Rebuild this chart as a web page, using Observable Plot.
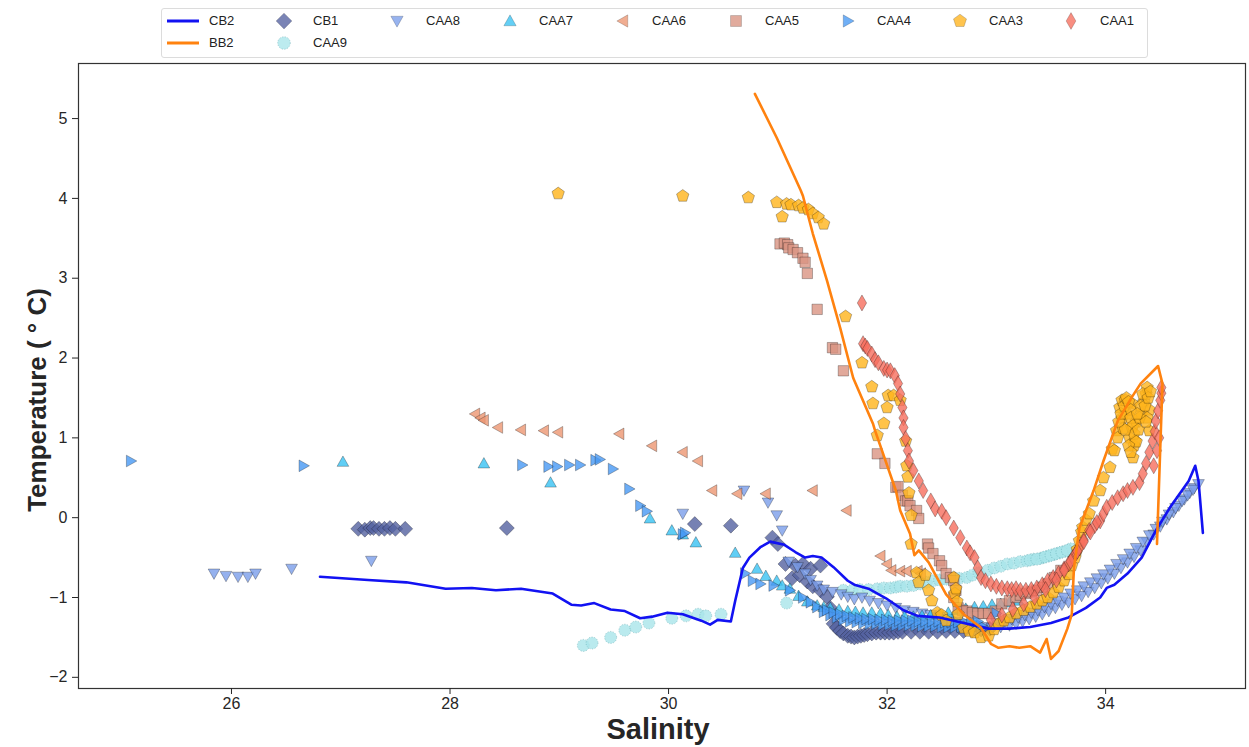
<!DOCTYPE html>
<html>
<head>
<meta charset="utf-8">
<script src="https://cdn.jsdelivr.net/npm/d3@7"></script>
<script src="https://cdn.jsdelivr.net/npm/@observablehq/plot@0.6"></script>
<style>
  body { margin: 0; background: #fff; font-family: "Liberation Sans", Arial, sans-serif; }
  #legend { position: relative; width: 1249px; height: 60px; }
  #legend .box { position: absolute; left: 161px; top: 8px; width: 985px; height: 48px; border: 1px solid #dcdcdc; border-radius: 3px; }
  #legend .lab { position: absolute; font-size: 13px; color: #222; line-height: 14px; }
  #legend svg { position: absolute; overflow: visible; }
</style>
</head>
<body>
<div id="legend"><div class="box"></div></div>
<div id="chart"></div>
<script>
// ---------------- data (Salinity, Temperature) ----------------
const xTicks = [26, 28, 30, 32, 34];
const yTicks = [-2, -1, 0, 1, 2, 3, 4, 5];

const cb2 = [[26.81,-0.74],[27.25,-0.78],[27.60,-0.81],[27.96,-0.89],[28.20,-0.88],[28.42,-0.91],[28.65,-0.89],[28.94,-0.95],[29.11,-1.09],[29.20,-1.10],[29.32,-1.07],[29.47,-1.15],[29.60,-1.17],[29.74,-1.26],[29.85,-1.24],[29.99,-1.19],[30.13,-1.21],[30.30,-1.29],[30.38,-1.34],[30.45,-1.28],[30.57,-1.30],[30.61,-1.04],[30.68,-0.63],[30.74,-0.50],[30.84,-0.37],[30.93,-0.30],[31.06,-0.34],[31.16,-0.43],[31.25,-0.50],[31.32,-0.48],[31.40,-0.50],[31.51,-0.62],[31.64,-0.79],[31.70,-0.84],[31.83,-0.89],[31.99,-1.01],[32.15,-1.16],[32.28,-1.23],[32.48,-1.25],[32.73,-1.33],[32.93,-1.39],[33.12,-1.39],[33.31,-1.37],[33.50,-1.32],[33.66,-1.25],[33.82,-1.13],[33.95,-1.00],[34.01,-0.88],[34.08,-0.84],[34.20,-0.70],[34.33,-0.50],[34.46,-0.16],[34.59,0.13],[34.76,0.46],[34.82,0.65],[34.85,0.46],[34.89,-0.19]];

const bb2 = [[30.79,5.31],[30.99,4.76],[31.21,4.10],[31.23,4.03],[31.32,3.56],[31.45,2.97],[31.57,2.38],[31.69,1.75],[31.87,1.18],[31.89,1.09],[32.08,0.34],[32.12,0.09],[32.21,-0.20],[32.25,-0.47],[32.29,-0.41],[32.38,-0.56],[32.54,-0.96],[32.70,-1.21],[32.86,-1.38],[32.95,-1.58],[33.02,-1.63],[33.12,-1.61],[33.21,-1.63],[33.31,-1.61],[33.40,-1.69],[33.46,-1.52],[33.50,-1.77],[33.57,-1.67],[33.65,-1.39],[33.69,-1.21],[33.71,-0.63],[33.76,-0.13],[33.89,0.34],[33.98,0.71],[34.11,1.21],[34.24,1.51],[34.32,1.68],[34.48,1.90],[34.52,1.68],[34.47,-0.33]];

const cb1 = [[27.16,-0.14],[27.22,-0.15],[27.27,-0.13],[27.30,-0.13],[27.35,-0.14],[27.40,-0.14],[27.45,-0.13],[27.50,-0.14],[27.59,-0.14],[28.52,-0.13],[30.24,-0.08],[30.57,-0.10],[30.95,-0.25],[31.00,-0.33],[31.07,-0.58],[31.16,-0.60],[31.23,-0.58],[31.30,-0.64],[31.39,-0.60],[31.13,-0.76],[31.20,-0.72],[31.27,-0.80],[31.32,-0.86],[31.39,-0.91],[31.45,-0.99],[31.48,-1.13],[31.51,-1.33],[31.54,-1.38],[31.57,-1.42],[31.60,-1.45],[31.64,-1.48],[31.67,-1.49],[31.70,-1.50],[31.73,-1.49],[31.76,-1.48],[31.79,-1.47],[31.82,-1.46],[31.86,-1.45],[31.90,-1.44],[31.94,-1.44],[31.98,-1.44],[32.02,-1.44],[32.06,-1.44],[32.10,-1.43],[32.14,-1.43],[32.22,-1.43],[32.30,-1.43],[32.38,-1.43],[32.46,-1.43],[32.54,-1.42],[32.62,-1.42],[32.70,-1.42],[32.78,-1.41],[32.86,-1.40],[32.94,-1.39]];

const caa9 = [[29.22,-1.60],[29.30,-1.57],[29.47,-1.50],[29.60,-1.41],[29.70,-1.37],[29.82,-1.32],[30.03,-1.26],[30.16,-1.23],[30.27,-1.21],[30.34,-1.23],[30.48,-1.21],[31.08,-1.07],[31.60,-0.91],[31.68,-0.91],[31.75,-0.90],[31.83,-0.90],[31.91,-0.89],[31.97,-0.88],[32.03,-0.88],[32.08,-0.87],[32.12,-0.86],[32.18,-0.86],[32.24,-0.85],[32.30,-0.83],[32.36,-0.81],[32.42,-0.79],[32.48,-0.78],[32.54,-0.77],[32.60,-0.76],[32.66,-0.76],[32.73,-0.75],[32.78,-0.72],[32.84,-0.69],[32.92,-0.66],[32.98,-0.63],[33.04,-0.61],[33.10,-0.58],[33.16,-0.57],[33.22,-0.55],[33.28,-0.54],[33.34,-0.52],[33.40,-0.51],[33.43,-0.50],[33.48,-0.48],[33.53,-0.46],[33.58,-0.44],[33.63,-0.42],[33.68,-0.39],[33.31,-0.53],[33.37,-0.52],[33.45,-0.49],[33.50,-0.47],[33.55,-0.45],[33.60,-0.43],[33.65,-0.41]];

const caa8 = [[25.84,-0.70],[25.95,-0.73],[26.06,-0.74],[26.15,-0.74],[26.22,-0.70],[26.55,-0.64],[27.28,-0.54],[30.13,0.05],[30.69,0.34],[30.91,0.19],[30.99,0.03],[31.04,-0.16],[31.10,-0.55],[31.18,-0.62],[31.25,-0.70],[31.30,-0.78],[31.36,-0.85],[31.42,-0.90],[31.50,-0.93],[31.58,-0.96],[31.64,-0.99],[31.70,-1.02],[31.77,-1.00],[31.84,-1.04],[31.92,-1.07],[32.00,-1.10],[32.08,-1.13],[32.16,-1.16],[32.24,-1.18],[32.32,-1.20],[32.40,-1.22],[32.48,-1.24],[32.56,-1.27],[32.64,-1.30],[32.72,-1.33],[32.80,-1.36],[32.88,-1.37],[32.96,-1.38],[33.04,-1.37],[33.12,-1.35],[33.18,-1.33],[33.24,-1.30],[33.30,-1.27],[33.36,-1.24],[33.42,-1.21],[33.48,-1.17],[33.54,-1.13],[33.60,-1.09],[33.66,-1.06],[33.72,-1.02],[33.78,-0.98],[33.84,-0.93],[33.90,-0.88],[33.96,-0.82],[34.02,-0.76],[34.08,-0.70],[34.14,-0.63],[34.20,-0.56],[34.26,-0.49],[34.32,-0.41],[34.38,-0.31],[34.44,-0.21],[34.50,-0.11],[34.56,-0.02],[34.62,0.07],[34.67,0.15],[34.72,0.23],[34.77,0.31],[34.81,0.37],[34.85,0.42],[33.00,-1.32],[33.08,-1.30],[33.14,-1.27],[33.20,-1.25],[33.26,-1.22],[33.32,-1.19],[33.38,-1.16],[33.44,-1.12],[33.50,-1.08],[33.56,-1.04],[33.62,-1.00],[33.68,-0.95],[33.74,-0.91],[33.80,-0.86],[33.86,-0.81],[33.92,-0.76],[33.98,-0.71],[34.04,-0.65],[34.10,-0.58],[34.16,-0.52],[34.22,-0.45],[34.28,-0.38],[34.34,-0.30],[34.40,-0.22],[34.46,-0.14],[34.52,-0.05],[34.58,0.04],[34.64,0.12],[34.70,0.21],[34.75,0.28],[34.80,0.35]];

const caa7 = [[27.02,0.70],[28.31,0.68],[28.92,0.44],[29.83,-0.01],[30.03,-0.16],[30.13,-0.21],[30.25,-0.31],[30.61,-0.44],[30.81,-0.64],[30.89,-0.73],[30.99,-0.79],[31.04,-0.85],[31.11,-0.89],[31.19,-0.98],[31.27,-1.05],[31.36,-1.10],[31.42,-1.12],[31.48,-1.13],[31.56,-1.15],[31.64,-1.17],[31.71,-1.18],[31.78,-1.19],[31.86,-1.19],[31.94,-1.20],[32.01,-1.22],[32.09,-1.24],[32.16,-1.24],[32.24,-1.24],[32.32,-1.23],[32.40,-1.22],[32.48,-1.21],[32.56,-1.19],[32.64,-1.16],[32.72,-1.14],[32.80,-1.12],[32.88,-1.11],[32.96,-1.09],[33.04,-1.08],[33.12,-1.06],[33.20,-1.04]];

const caa6 = [[28.23,1.30],[28.28,1.25],[28.31,1.22],[28.44,1.13],[28.65,1.10],[28.86,1.09],[28.99,1.07],[29.55,1.05],[29.85,0.90],[30.13,0.82],[30.27,0.71],[30.40,0.34],[30.63,0.30],[30.89,0.30],[31.32,0.34],[31.63,0.09],[31.94,-0.48],[32.00,-0.58],[32.04,-0.66],[32.12,-0.67],[32.18,-0.67],[32.28,-0.67],[32.31,-0.70]];

const caa5 = [[31.02,3.43],[31.06,3.44],[31.09,3.42],[31.10,3.38],[31.14,3.36],[31.18,3.32],[31.23,3.25],[31.25,3.20],[31.27,3.06],[31.36,2.61],[31.50,2.13],[31.53,2.11],[31.60,1.84],[31.91,0.80],[31.98,0.68],[32.08,0.38],[32.10,0.39],[32.14,0.28],[32.17,0.21],[32.19,0.21],[32.21,0.15],[32.27,0.09],[32.29,-0.01],[32.37,-0.33],[32.38,-0.38],[32.42,-0.45],[32.48,-0.54],[32.50,-0.60],[32.54,-0.70],[32.58,-0.75],[32.61,-0.79],[32.63,-0.91],[32.61,-1.00],[32.65,-1.13],[32.69,-1.16],[32.73,-1.17],[32.78,-1.19],[32.83,-1.20],[32.88,-1.20],[32.93,-1.20],[32.99,-1.17],[33.05,-1.08],[33.12,-1.04],[33.18,-1.00],[33.22,-0.97],[33.27,-0.95],[33.32,-0.93],[33.37,-0.91],[33.42,-0.87],[33.47,-0.83],[33.53,-0.75],[33.59,-0.66]];

const caa4 = [[25.08,0.71],[26.66,0.65],[28.66,0.66],[28.90,0.64],[28.98,0.64],[29.09,0.66],[29.19,0.66],[29.33,0.72],[29.37,0.73],[29.49,0.61],[29.64,0.36],[29.74,0.15],[29.80,0.08],[30.13,-0.21],[30.15,-0.19],[30.70,-0.70],[30.77,-0.79],[30.84,-0.83],[30.96,-0.85],[31.11,-0.91],[31.23,-1.00],[31.30,-1.06],[31.36,-1.12],[31.42,-1.18],[31.48,-1.22],[31.54,-1.25],[31.60,-1.28],[31.66,-1.30],[31.72,-1.31],[31.78,-1.32],[31.84,-1.33],[31.90,-1.33],[31.96,-1.34],[32.02,-1.34],[32.08,-1.35],[32.14,-1.35],[32.20,-1.35],[32.26,-1.35],[32.32,-1.36],[32.38,-1.36],[32.44,-1.36],[32.50,-1.37],[32.56,-1.37],[32.62,-1.37],[32.68,-1.37],[32.74,-1.37],[32.80,-1.36],[32.86,-1.35],[33.00,-1.20],[31.45,-1.16],[31.51,-1.19],[31.57,-1.21],[31.63,-1.23],[31.69,-1.25],[31.75,-1.26],[31.81,-1.27],[31.87,-1.27],[31.93,-1.28],[31.99,-1.28],[32.05,-1.29],[32.11,-1.29],[32.17,-1.29],[32.23,-1.29],[32.29,-1.30],[32.35,-1.30],[32.41,-1.30],[32.47,-1.30],[32.53,-1.31],[32.59,-1.31],[32.65,-1.31],[32.71,-1.31],[32.77,-1.30],[32.83,-1.30]];

const caa3 = [[28.99,4.06],[30.13,4.03],[30.73,4.01],[30.99,3.95],[31.04,3.77],[31.08,3.93],[31.12,3.92],[31.19,3.91],[31.23,3.88],[31.28,3.86],[31.32,3.81],[31.37,3.76],[31.42,3.68],[31.62,2.52],[31.77,1.94],[31.86,1.64],[31.87,1.43],[31.91,1.03],[31.97,1.18],[32.00,1.38],[32.01,1.53],[32.06,1.53],[32.12,1.47],[32.17,0.96],[32.18,0.65],[32.19,0.51],[32.20,0.31],[32.22,0.03],[32.22,-0.33],[32.27,-0.69],[32.29,-0.81],[32.35,-0.72],[32.38,-0.91],[32.41,-1.04],[32.46,-1.19],[32.50,-1.22],[32.54,-1.29],[32.61,-0.75],[32.62,-0.95],[32.63,-0.89],[32.64,-1.05],[32.65,-1.21],[32.70,-1.38],[32.75,-1.42],[32.80,-1.44],[32.86,-1.50],[32.93,-1.48],[32.98,-1.40],[33.02,-1.33],[33.07,-1.29],[33.12,-1.25],[33.18,-1.20],[33.25,-1.16],[33.31,-1.12],[33.37,-1.08],[33.42,-1.04],[33.47,-1.00],[33.52,-0.94],[33.57,-0.87],[33.62,-0.79],[33.66,-0.71],[33.69,-0.60],[33.72,-0.50],[33.74,-0.40],[33.76,-0.29],[33.78,-0.18],[33.79,-0.12],[33.82,-0.03],[33.85,0.05],[33.89,0.21],[33.95,0.34],[33.98,0.50],[34.04,0.63],[34.06,0.86],[34.08,0.84],[34.10,1.09],[34.11,1.00],[34.13,1.38],[34.15,1.25],[34.15,1.47],[34.16,1.12],[34.18,1.47],[34.20,1.30],[34.22,1.00],[34.24,1.43],[34.24,1.13],[34.25,0.75],[34.26,0.90],[34.27,0.96],[34.28,1.20],[34.33,1.30],[34.35,1.45],[34.37,1.55],[34.38,1.63],[34.40,1.09],[34.40,1.35],[34.38,1.25],[34.12,1.20],[34.14,1.30],[34.17,1.40],[34.19,1.50],[34.21,1.45],[34.23,1.35],[34.23,1.25],[34.25,1.15],[34.26,1.05],[34.28,0.95],[34.30,1.10],[34.31,1.25],[34.32,1.40],[34.34,1.55],[34.36,1.40],[34.37,1.20],[34.39,1.50],[34.41,1.58],[34.29,1.30],[34.18,1.10],[34.21,0.90],[34.23,0.82]];

const caa1 = [[31.77,2.69],[31.78,2.18],[31.80,2.15],[31.82,2.12],[31.86,2.05],[31.89,1.98],[31.92,1.94],[31.97,1.87],[32.00,1.85],[32.03,1.84],[32.07,1.78],[32.10,1.68],[32.12,1.55],[32.14,1.38],[32.15,1.25],[32.15,1.13],[32.17,0.99],[32.19,0.84],[32.20,0.71],[32.24,0.59],[32.29,0.46],[32.33,0.34],[32.40,0.21],[32.44,0.11],[32.50,0.08],[32.54,0.00],[32.61,-0.13],[32.67,-0.25],[32.73,-0.38],[32.76,-0.44],[32.80,-0.50],[32.83,-0.63],[32.86,-0.75],[32.90,-0.79],[32.95,-0.83],[33.00,-0.86],[33.05,-0.88],[33.10,-0.89],[33.14,-0.90],[33.18,-0.89],[33.22,-0.91],[33.27,-0.91],[33.32,-0.90],[33.37,-0.88],[33.42,-0.84],[33.47,-0.79],[33.52,-0.75],[33.57,-0.70],[33.62,-0.64],[33.66,-0.58],[33.70,-0.50],[33.73,-0.44],[33.76,-0.38],[33.80,-0.28],[33.85,-0.16],[33.90,-0.10],[33.95,-0.04],[33.98,0.05],[34.01,0.13],[34.06,0.19],[34.11,0.25],[34.16,0.30],[34.20,0.34],[34.25,0.38],[34.31,0.44],[34.34,0.55],[34.37,0.68],[34.40,0.82],[34.43,0.96],[34.44,0.65],[34.45,1.08],[34.46,1.21],[34.48,1.34],[34.50,1.47],[34.51,1.56],[34.51,1.63],[34.49,1.00],[34.47,0.84],[32.95,-1.28],[33.05,-1.22],[33.15,-1.15],[33.25,-1.08],[33.35,-1.00],[33.45,-0.90],[33.55,-0.78],[33.62,-0.66],[33.68,-0.55],[33.74,-0.42],[33.80,-0.30],[33.86,-0.18],[33.92,-0.06]];

// ---------------- symbols ----------------
const poly = (pts) => ({
  draw(ctx, size) {
    const r = Math.sqrt(size / Math.PI);
    pts.forEach(([a, b], i) => i ? ctx.lineTo(a * r, b * r) : ctx.moveTo(a * r, b * r));
    ctx.closePath();
  }
});
const pent = d3.range(5).map(i => { const a = -Math.PI / 2 + i * 2 * Math.PI / 5; return [Math.cos(a), Math.sin(a)]; });
const SYM = {
  diamond: poly([[0,-1],[1,0],[0,1],[-1,0]]),
  thinDiamond: poly([[0,-1],[0.58,0],[0,1],[-0.58,0]]),
  triDown: poly([[-0.9,-0.7],[0.9,-0.7],[0,0.9]]),
  triUp: poly([[-0.9,0.7],[0.9,0.7],[0,-0.9]]),
  triLeft: poly([[0.7,-0.9],[0.7,0.9],[-0.9,0]]),
  triRight: poly([[-0.7,-0.9],[-0.7,0.9],[0.9,0]]),
  square: poly([[-0.8,-0.8],[0.8,-0.8],[0.8,0.8],[-0.8,0.8]]),
  pentagon: poly(pent),
  circle: { draw(ctx, size) { const r = Math.sqrt(size / Math.PI); ctx.moveTo(r, 0); ctx.arc(0, 0, r, 0, 2 * Math.PI); } }
};

const series = [
  {name: "CB1",  data: cb1,  sym: "diamond",     r: 7.5, fill: "#5462a0"},
  {name: "CAA9", data: caa9, sym: "circle",      r: 6,   fill: "#a9e5ea", dash: "1.2,1.5", stroke: "#3e8f98"},
  {name: "CAA8", data: caa8, sym: "triDown",     r: 6.5, fill: "#7a9eea"},
  {name: "CAA7", data: caa7, sym: "triUp",       r: 6.5, fill: "#38c2f2"},
  {name: "CAA6", data: caa6, sym: "triLeft",     r: 6.5, fill: "#ec9672"},
  {name: "CAA5", data: caa5, sym: "square",      r: 6.5, fill: "#d99482"},
  {name: "CAA4", data: caa4, sym: "triRight",    r: 6.5, fill: "#4798f4"},
  {name: "CAA3", data: caa3, sym: "pentagon",    r: 6.5, fill: "#ffb41c"},
  {name: "CAA1", data: caa1, sym: "thinDiamond", r: 8,   fill: "#f66e5e"}
];

const dotMarks = series.map(s => Plot.dot(s.data, {
  x: d => d[0], y: d => d[1], symbol: SYM[s.sym], r: s.r,
  fill: s.fill, fillOpacity: 0.8,
  stroke: s.stroke || "#000", strokeOpacity: s.stroke ? 0.6 : 0.45, strokeWidth: 0.6,
  strokeDasharray: s.dash || null
}));

const chart = Plot.plot({
  width: 1249, height: 687,
  marginLeft: 78, marginRight: 4, marginTop: 3, marginBottom: 59,
  style: {fontFamily: "'Liberation Sans', Arial, sans-serif", fontSize: "16px", color: "#262626", background: "#fff"},
  x: {domain: [24.6, 35.28]},
  y: {domain: [-2.14, 5.69]},
  marks: [
    ...dotMarks,
    Plot.line(cb2, {x: d => d[0], y: d => d[1], stroke: "#1212f2", strokeWidth: 2.6, curve: "linear"}),
    Plot.line(bb2, {x: d => d[0], y: d => d[1], stroke: "#ff820f", strokeWidth: 2.6, curve: "linear"}),
    Plot.frame({stroke: "#333", strokeWidth: 1.2}),
    Plot.axisX({ticks: xTicks, tickSize: 6, tickPadding: 3, tickFormat: d => String(d), label: null, fontSize: 16}),
    Plot.axisY({ticks: yTicks, tickSize: 6, tickPadding: 5, label: null, fontSize: 16}),
    Plot.text(["Salinity"], {frameAnchor: "bottom", lineAnchor: "middle", textAnchor: "middle", dy: 41, dx: -4, fontSize: 29, fontWeight: "bold", fill: "#262626"}),
    Plot.text(["Temperature ( ° C)"], {frameAnchor: "left", lineAnchor: "middle", textAnchor: "middle", rotate: -90, dx: -41, dy: 24, fontSize: 26, fontWeight: "bold", fill: "#262626"})
  ]
});
document.getElementById("chart").appendChild(chart);

// ---------------- legend ----------------
const legend = document.getElementById("legend");
const legendItems = [
  {name: "CB2",  kind: "line", color: "#1212f2", x: 167, y: 21},
  {name: "BB2",  kind: "line", color: "#ff820f", x: 167, y: 43},
  {name: "CB1",  s: series[0], x: 284, y: 21},
  {name: "CAA9", s: series[1], x: 284, y: 43},
  {name: "CAA8", s: series[2], x: 397, y: 21},
  {name: "CAA7", s: series[3], x: 510, y: 21},
  {name: "CAA6", s: series[4], x: 623, y: 21},
  {name: "CAA5", s: series[5], x: 736, y: 21},
  {name: "CAA4", s: series[6], x: 848, y: 21},
  {name: "CAA3", s: series[7], x: 960, y: 21},
  {name: "CAA1", s: series[8], x: 1071, y: 21}
];
legendItems.forEach(it => {
  const ns = "http://www.w3.org/2000/svg";
  const svg = document.createElementNS(ns, "svg");
  svg.setAttribute("width", 40); svg.setAttribute("height", 20);
  let labelX;
  if (it.kind === "line") {
    svg.style.left = it.x + "px"; svg.style.top = (it.y - 10) + "px";
    const l = document.createElementNS(ns, "line");
    l.setAttribute("x1", 0); l.setAttribute("x2", 32); l.setAttribute("y1", 10); l.setAttribute("y2", 10);
    l.setAttribute("stroke", it.color); l.setAttribute("stroke-width", 3);
    svg.appendChild(l);
    labelX = it.x + 42;
  } else {
    const s = it.s;
    svg.style.left = (it.x - 20) + "px"; svg.style.top = (it.y - 10) + "px";
    const p = d3.path();
    const rr = s.r * 1.05;
    SYM[s.sym].draw(p, rr * rr * Math.PI);
    const path = document.createElementNS(ns, "path");
    path.setAttribute("d", p.toString());
    path.setAttribute("transform", "translate(20,10)");
    path.setAttribute("fill", s.fill); path.setAttribute("fill-opacity", 0.78);
    path.setAttribute("stroke", s.stroke || "#000"); path.setAttribute("stroke-opacity", s.stroke ? 0.6 : 0.3);
    path.setAttribute("stroke-width", 0.6);
    if (s.dash) path.setAttribute("stroke-dasharray", s.dash);
    svg.appendChild(path);
    labelX = it.x + 29;
  }
  legend.appendChild(svg);
  const lab = document.createElement("div");
  lab.className = "lab"; lab.textContent = it.name;
  lab.style.left = labelX + "px"; lab.style.top = (it.y - 7) + "px";
  legend.appendChild(lab);
});
</script>
</body>
</html>
